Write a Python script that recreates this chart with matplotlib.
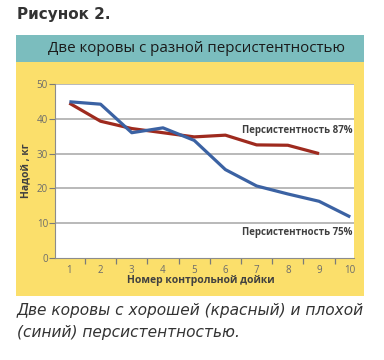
import matplotlib
matplotlib.use("Agg")
import matplotlib.pyplot as plt
from matplotlib.patches import Rectangle
from matplotlib.ticker import FixedLocator, FixedFormatter, NullFormatter

x_red = [1, 2, 3, 4, 5, 6, 7, 8, 9]
red_values = [44.5, 39.3, 37.2, 36.0, 34.8, 35.3, 32.5, 32.4, 30.0]
x_blue = [1, 2, 3, 4, 5, 6, 7, 8, 9, 10]
blue_values = [44.9, 44.2, 36.0, 37.4, 33.8, 25.4, 20.7, 18.4, 16.3, 11.8]
x_ticks = [1, 2, 3, 4, 5, 6, 7, 8, 9, 10]
y_ticks = [0, 10, 20, 30, 40, 50]

W, H = 384, 360
fig = plt.figure(figsize=(W / 100, H / 100), dpi=100)
fig.patch.set_facecolor("white")

def fx(px):
    return px / W

def fy(py):
    return 1 - py / H

# header
fig.text(fx(17), fy(15), "Рисунок 2.", fontsize=11, fontweight="bold",
         color="#333333", ha="left", va="center", family=["DejaVu Sans"])

# teal title band
fig.patches.append(Rectangle((fx(16), fy(62)), fx(364) - fx(16), fy(35.5) - fy(62),
                             transform=fig.transFigure, facecolor="#7BBDBE",
                             edgecolor="none", zorder=0))
fig.text(fx(196), fy(49), "Две коровы с разной персистентностью", fontsize=10.9,
         color="#1a1a1a", ha="center", va="center", family=["Open Sans", "DejaVu Sans"])

# yellow band
fig.patches.append(Rectangle((fx(16), fy(296)), fx(364) - fx(16), fy(62) - fy(296),
                             transform=fig.transFigure, facecolor="#FBDF6B",
                             edgecolor="none", zorder=0))

ax = fig.add_axes([fx(55), fy(258), fx(354) - fx(55), fy(84) - fy(258)])
ax.set_zorder(5)
ax.set_facecolor("white")
ax.set_xlim(0.54, 10.12)
ax.set_ylim(0, 50)

ax.yaxis.set_major_locator(FixedLocator(y_ticks))
# tick marks between categories (major, unlabeled); labels on categories (minor, no mark)
ax.xaxis.set_major_locator(FixedLocator([t + 0.5 for t in x_ticks[:-1]]))
ax.xaxis.set_major_formatter(NullFormatter())
ax.xaxis.set_minor_locator(FixedLocator(x_ticks))
ax.xaxis.set_minor_formatter(FixedFormatter([str(t) for t in x_ticks]))
for y in y_ticks[1:]:
    ax.axhline(y, color="#A6A6A6", lw=1.1, zorder=1)

ax.plot(x_red, red_values, color="#9E2A1E", lw=2.3, zorder=3, solid_capstyle="butt")
ax.plot(x_blue, blue_values, color="#3B62A3", lw=2.3, zorder=4, solid_capstyle="butt")

for s in ["top", "right"]:
    ax.spines[s].set_visible(False)
ax.spines["left"].set_color("#8C8C8C")
ax.spines["bottom"].set_color("#8C8C8C")
ax.spines["left"].set_linewidth(0.8)
ax.spines["bottom"].set_linewidth(0.8)

ax.tick_params(axis="y", direction="out", length=4, width=0.8, color="#7a7a7a",
               labelsize=7, labelcolor="#6b6b6b", pad=1)
ax.tick_params(axis="x", which="major", direction="out", length=4, width=0.9, color="#7a7a7a")
ax.tick_params(axis="x", which="minor", length=0, labelsize=7, labelcolor="#6b6b6b", pad=5)
for lab in ax.get_xticklabels(minor=True) + ax.get_yticklabels():
    lab.set_family(["Open Sans", "DejaVu Sans"])

ax.set_ylabel("Надой , кг", fontsize=7.5, fontweight="bold", color="#404040",
              family=["Open Sans", "DejaVu Sans"], labelpad=4)
fig.text(fx(201), fy(281), "Номер контрольной дойки", fontsize=7.5, fontweight="bold",
         color="#404040", ha="center", va="center", family=["Open Sans", "DejaVu Sans"],
         zorder=10)

fig.text(fx(352), fy(130), "Персистентность 87%", fontsize=7, fontweight="bold",
         color="#404040", ha="right", va="center", family=["Open Sans", "DejaVu Sans"],
         zorder=10)
fig.text(fx(352), fy(233), "Персистентность 75%", fontsize=7, fontweight="bold",
         color="#404040", ha="right", va="center", family=["Open Sans", "DejaVu Sans"],
         zorder=10)

# caption
fig.text(fx(17), fy(310), "Две коровы с хорошей (красный) и плохой", fontsize=11.1,
         style="italic", color="#333333", ha="left", va="center", family=["DejaVu Sans"])
fig.text(fx(17), fy(333), "(синий) персистентностью.", fontsize=11.1,
         style="italic", color="#333333", ha="left", va="center", family=["DejaVu Sans"])

fig.savefig("out.png", dpi=100, facecolor="white")
